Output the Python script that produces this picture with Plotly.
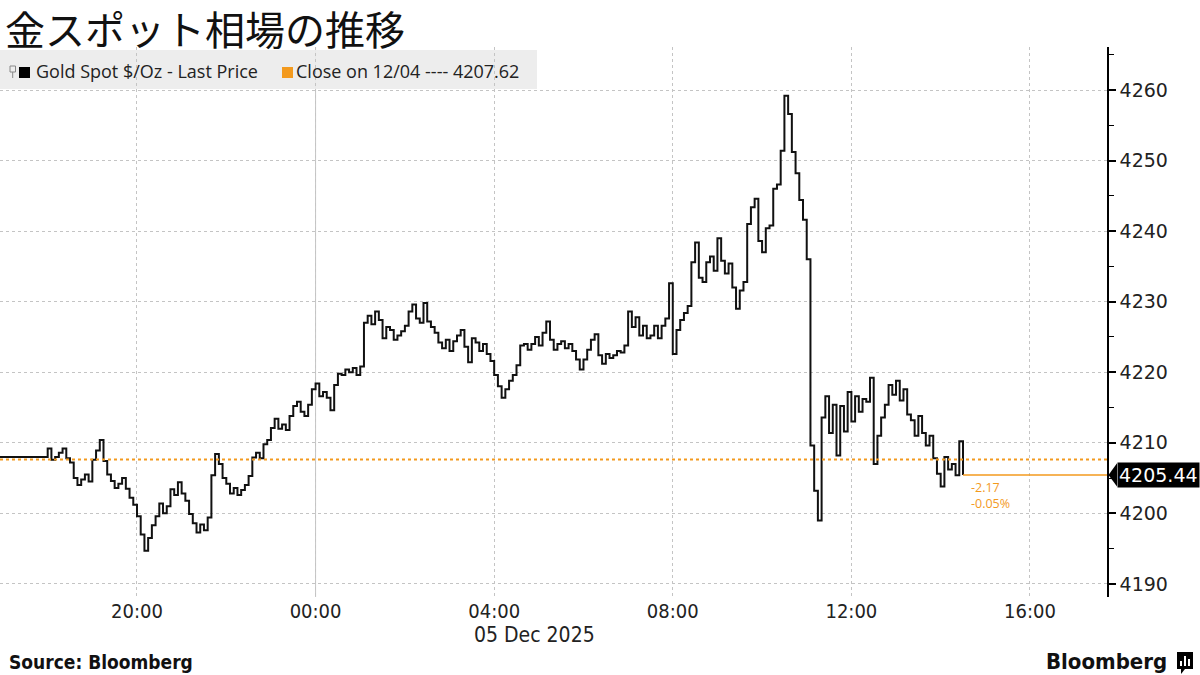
import pandas as pd
import plotly.graph_objects as go

# ---------------- text ----------------
title_text = "金スポット相場の推移"
series_name = "Gold Spot $/Oz - Last Price"
close_label = "Close on 12/04 ---- 4207.62"
change_text = "-2.17"
change_pct_text = "-0.05%"
date_label = "05 Dec 2025"
source_text = "Source: Bloomberg"
brand_text = "Bloomberg"

# ---------------- values ----------------
prev_close = 4207.62
last_price = 4205.44
pre_open_time = "2025-12-04 16:55"
pre_open_price = 4208.0
session_start = "2025-12-04 18:00"   # 5-minute samples from here

p_18 = [4209.2, 4207.6, 4208.0, 4208.6, 4209.2, 4207.8, 4207.2, 4205.0, 4204.0, 4204.8, 4205.5, 4204.5]
p_19 = [4207.6, 4208.9, 4210.4, 4207.4, 4205.5, 4204.6, 4203.6, 4204.2, 4205.0, 4203.5, 4202.2, 4201.2]
p_20 = [4199.6, 4197.0, 4194.7, 4196.5, 4198.3, 4199.6, 4201.4, 4200.0, 4201.0, 4203.4, 4202.6, 4204.4]
p_21 = [4202.8, 4201.8, 4199.9, 4198.6, 4197.3, 4198.4, 4197.6, 4199.4, 4205.4, 4208.4, 4207.0, 4205.0]
p_22 = [4204.2, 4202.8, 4203.6, 4202.6, 4203.3, 4204.0, 4205.3, 4207.9, 4208.6, 4207.8, 4209.8, 4210.4]
p_23 = [4212.1, 4213.4, 4212.0, 4212.6, 4211.8, 4213.8, 4215.2, 4215.8, 4214.4, 4213.8, 4215.4, 4217.6]
p_00 = [4218.4, 4216.6, 4217.2, 4216.4, 4214.6, 4218.2, 4219.8, 4219.6, 4220.4, 4220.0, 4220.6, 4219.6]
p_01 = [4220.8, 4227.0, 4228.0, 4226.8, 4228.6, 4227.4, 4224.8, 4226.4, 4226.0, 4224.6, 4225.2, 4225.8]
p_02 = [4226.6, 4228.6, 4229.6, 4227.6, 4227.0, 4229.8, 4227.2, 4226.4, 4225.6, 4224.2, 4223.4, 4224.6]
p_03 = [4223.0, 4224.4, 4225.2, 4226.0, 4223.6, 4221.4, 4224.8, 4224.2, 4223.0, 4224.0, 4222.6, 4221.6]
p_04 = [4219.6, 4218.0, 4216.4, 4217.6, 4218.8, 4219.6, 4221.0, 4223.8, 4224.0, 4223.2, 4224.0, 4225.0]
p_05 = [4223.8, 4225.6, 4227.2, 4224.6, 4223.2, 4224.0, 4224.4, 4223.4, 4224.0, 4223.0, 4221.8, 4220.4]
p_06 = [4221.8, 4223.2, 4224.6, 4225.4, 4222.4, 4221.2, 4222.6, 4222.0, 4222.4, 4223.0, 4222.8, 4223.8]
p_07 = [4228.6, 4226.4, 4227.8, 4225.2, 4226.6, 4224.8, 4225.2, 4226.6, 4224.8, 4226.6, 4227.6, 4232.6]
p_08 = [4222.6, 4226.0, 4227.4, 4228.4, 4229.4, 4235.6, 4238.4, 4233.4, 4232.8, 4235.6, 4236.4, 4234.4]
p_09 = [4239.0, 4235.8, 4234.0, 4235.4, 4232.0, 4229.0, 4231.6, 4232.8, 4241.0, 4243.4, 4244.6, 4238.6]
p_10 = [4237.0, 4240.4, 4240.8, 4246.0, 4246.6, 4251.4, 4259.2, 4256.6, 4251.2, 4248.2, 4244.4, 4241.6]
p_11 = [4236.0, 4209.6, 4203.2, 4199.0, 4213.6, 4216.6, 4211.4, 4215.4, 4208.2, 4215.2, 4211.6, 4217.2]
p_12 = [4213.0, 4216.6, 4214.4, 4216.2, 4215.8, 4219.2, 4207.0, 4211.0, 4213.6, 4215.4, 4218.2, 4216.8]
p_13 = [4218.8, 4216.0, 4217.6, 4214.0, 4213.2, 4211.0, 4213.8, 4211.4, 4209.6, 4211.0, 4207.8, 4205.6]
p_14 = [4203.8, 4208.0, 4206.2, 4207.0, 4205.4, 4210.2, 4205.44]

x_range = ["2025-12-04 16:55:55", "2025-12-05 17:43:30"]
y_range = [4188.14, 4266.1]
y_ticks = [4190, 4200, 4210, 4220, 4230, 4240, 4250, 4260]

session_prices = (p_18 + p_19 + p_20 + p_21 + p_22 + p_23 + p_00 + p_01 + p_02 + p_03 +
                  p_04 + p_05 + p_06 + p_07 + p_08 + p_09 + p_10 + p_11 + p_12 + p_13 + p_14)
session_times = list(pd.date_range(session_start, periods=len(session_prices), freq="5min"))
times = [pd.Timestamp(pre_open_time)] + session_times
prices = [pre_open_price] + session_prices
last_time = times[-1]

# ---------------- geometry helpers (pixels -> paper) ----------------
W, H = 1200, 675
ML, MR, MT, MB = 0, 93, 47, 78
PW, PH = W - ML - MR, H - MT - MB
def px(x):
    return (x - ML) / PW
def py(y):
    return (H - MB - y) / PH

ORANGE = "#f39a1e"
COND = "DejaVu Sans Condensed, Liberation Sans Narrow, sans-serif"
SANS = "Open Sans, Noto Sans, DejaVu Sans, sans-serif"
WIDE = "DejaVu Sans, Verdana, sans-serif"

fig = go.Figure()
fig.add_trace(go.Scatter(
    x=times, y=prices, mode="lines", line=dict(color="#111111", width=2, shape="hv"),
    name=series_name, hoverinfo="skip", showlegend=False, cliponaxis=True))

shapes = [
    # day separator at 00:00
    dict(type="line", xref="x", yref="paper", x0="2025-12-05 00:00", x1="2025-12-05 00:00",
         y0=0, y1=1, line=dict(color="#c4c4c4", width=1), layer="below"),
    # legend band
    dict(type="rect", xref="paper", yref="paper", x0=px(0), x1=px(537), y0=py(89), y1=py(50),
         fillcolor="rgba(236,236,236,0.92)", line=dict(width=0), layer="below"),
    # legend icon
    dict(type="rect", xref="paper", yref="paper", x0=px(10), x1=px(15.5), y0=py(72), y1=py(66),
         line=dict(color="#888888", width=1), fillcolor="rgba(0,0,0,0)"),
    dict(type="line", xref="paper", yref="paper", x0=px(12.7), x1=px(12.7), y0=py(78), y1=py(72),
         line=dict(color="#888888", width=1)),
    dict(type="rect", xref="paper", yref="paper", x0=px(19), x1=px(30), y0=py(78), y1=py(67),
         fillcolor="#000000", line=dict(width=0)),
    dict(type="rect", xref="paper", yref="paper", x0=px(282), x1=px(293), y0=py(78), y1=py(67),
         fillcolor=ORANGE, line=dict(width=0)),
    # previous close dotted line
    dict(type="line", xref="paper", yref="y", x0=0, x1=1, y0=prev_close, y1=prev_close,
         line=dict(color=ORANGE, width=2, dash="dot")),
    # last price line
    dict(type="line", xref="x", yref="y", x0=last_time, x1=x_range[1], y0=last_price, y1=last_price,
         line=dict(color=ORANGE, width=1.5)),
    # last price tag arrow
    dict(type="path", xref="paper", yref="y",
         path=f"M {px(1108.5)},{last_price} L {px(1117)},{last_price + 1.65} L {px(1117)},{last_price - 1.65} Z",
         fillcolor="#000000", line=dict(width=0)),
    # Bloomberg logo block
    dict(type="rect", xref="paper", yref="paper", x0=px(1177), x1=px(1193), y0=py(669), y1=py(652),
         fillcolor="#000000", line=dict(width=0)),
    dict(type="path", xref="paper", yref="paper",
         path=f"M {px(1181)},{py(669)} L {px(1185)},{py(669)} L {px(1181)},{py(674)} Z",
         fillcolor="#000000", line=dict(width=0)),
]
for bx, top in [(1181, 661), (1185, 656), (1189, 659)]:
    shapes.append(dict(type="line", xref="paper", yref="paper", x0=px(bx), x1=px(bx),
                       y0=py(666), y1=py(top), line=dict(color="#ffffff", width=2)))

annotations = [
    dict(text=title_text, xref="paper", yref="paper", x=px(3), y=py(-3), xanchor="left", yanchor="top",
         showarrow=False, font=dict(family="Noto Sans CJK JP", size=40, color="#111111")),
    dict(text=series_name, xref="paper", yref="paper", x=px(34), y=py(71), xanchor="left", yanchor="middle",
         showarrow=False, font=dict(family=SANS, size=18, color="#222222")),
    dict(text=close_label, xref="paper", yref="paper", x=px(294), y=py(71), xanchor="left", yanchor="middle",
         showarrow=False, font=dict(family=SANS, size=18, color="#222222")),
    dict(text=f"{last_price:.2f}", xref="paper", yref="y", x=px(1117), y=last_price, xanchor="left",
         yanchor="middle", showarrow=False, bgcolor="#000000", borderpad=1,
         font=dict(family=WIDE, size=19, color="#ffffff")),
    dict(text=f"{change_text}<br>{change_pct_text}", xref="x", yref="y", x=last_time, y=last_price,
         xanchor="left", yanchor="top", xshift=6, yshift=-2, align="left", showarrow=False,
         font=dict(family=SANS, size=12.5, color=ORANGE)),
    dict(text=date_label, xref="paper", yref="paper", x=px(534), y=py(635), xanchor="center",
         yanchor="middle", showarrow=False, font=dict(family=COND, size=21, color="#222222")),
    dict(text=f"<b>{source_text}</b>", xref="paper", yref="paper", x=px(7), y=py(662), xanchor="left",
         yanchor="middle", showarrow=False,
         font=dict(family="DejaVu Sans Condensed, DejaVu Sans, sans-serif", size=19, color="#111111")),
    dict(text=f"<b>{brand_text}</b>", xref="paper", yref="paper", x=px(1169), y=py(661), xanchor="right",
         yanchor="middle", showarrow=False,
         font=dict(family="DejaVu Sans Condensed, DejaVu Sans, sans-serif", size=22, color="#111111")),
]

fig.update_layout(
    width=W, height=H,
    margin=dict(l=ML, r=MR, t=MT, b=MB, pad=0),
    paper_bgcolor="#ffffff", plot_bgcolor="#ffffff",
    showlegend=False,
    shapes=shapes, annotations=annotations,
    xaxis=dict(
        type="date", range=x_range, showline=False, zeroline=False,
        tick0="2025-12-04 00:00", dtick=4 * 3600 * 1000, tickformat="%H:%M",
        ticks="", ticklen=0,
        tickfont=dict(family=COND, size=20, color="#222222"),
        showgrid=True, gridcolor="#c4c4c4", gridwidth=1, griddash="3px,3px",
    ),
    yaxis=dict(
        side="right", range=y_range, tickvals=y_ticks, zeroline=False,
        showline=True, linecolor="#000000", linewidth=1.5,
        ticks="outside", ticklen=7, tickwidth=2, tickcolor="#000000",
        minor=dict(dtick=5, tick0=4185, ticks="outside", ticklen=5, tickwidth=1, tickcolor="#000000", showgrid=False),
        tickfont=dict(family=WIDE, size=19, color="#222222"),
        showgrid=True, gridcolor="#c4c4c4", gridwidth=1, griddash="3px,3px",
    ),
)

fig.write_html("out.html", config={"displayModeBar": False},
               post_script="document.body.style.margin='0';document.body.style.overflow='hidden';")
